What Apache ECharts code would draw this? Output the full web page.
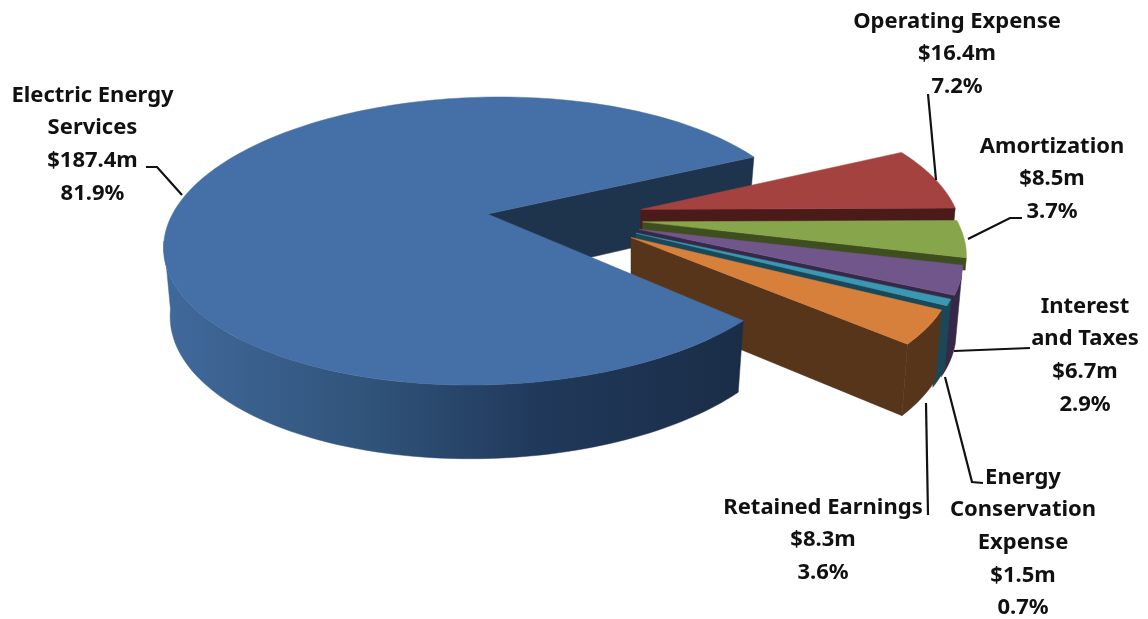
<!DOCTYPE html>
<html>
<head>
<meta charset="utf-8">
<title>Revenue and expense breakdown</title>
<script src="https://cdn.jsdelivr.net/npm/echarts@6/dist/echarts.min.js"></script>
<style>
  html, body { margin: 0; padding: 0; background: #ffffff; }
  #chart { width: 1148px; height: 619px; }
</style>
</head>
<body>
<div id="chart"></div>
<script>
// Slice data, clockwise from the large slice's upper cut edge.
var categories = ['Electric Energy\nServices', 'Operating Expense', 'Amortization', 'Interest\nand Taxes', 'Energy\nConservation\nExpense', 'Retained Earnings'];
var values = [187.4, 16.4, 8.5, 6.7, 1.5, 8.3];

var topColors = ['#4570a7', '#a44240', '#87a64c', '#71568c', '#3a98b3', '#d6803c'];
var cutColors = ['#1e344d', '#4a1b18', '#3f4e1e', '#362947', '#1b4858', '#57351a'];

// Pie projection: a disc tilted back with mild perspective, plus a per-slice explosion.
var PIE = {
  cx: 565, cy: 218,        // undisplaced pie centre
  explodeX: 78, explodeY: 36.5,
  rx: 315, ry: 139,
  perspective: 0.187,
  depth: 67, depthGrow: 0.1, taper: 0.98,
  firstAngle: 26.4,        // degrees, anti-clockwise from 3 o'clock, where slice 0 begins
  wallLimit: -16,          // outer walls on the right start below this angle
  wallOverlap: 4           // each wall runs on under the following slice
};
// Visible depth of each slice's cut face; the inner ones disappear behind the next slice.
var cutDepths = [PIE.depth, 20, 12, 10, 10, PIE.depth];

var total = values.reduce(function (a, b) { return a + b; }, 0);

// Angular span of each slice; slice 0 sweeps anti-clockwise, the rest run clockwise from the same edge.
var spans = [];
(function () {
  var main = values[0] / total * 360;
  spans.push({ from: PIE.firstAngle, to: PIE.firstAngle + main });
  var a = PIE.firstAngle;
  for (var i = 1; i < values.length; i++) {
    var sweep = values[i] / total * 360;
    spans.push({ from: a - sweep, to: a });
    a -= sweep;
  }
})();

function apexOf(i) {
  var mid = (spans[i].from + spans[i].to) / 2 * Math.PI / 180;
  return [PIE.cx + PIE.explodeX * Math.cos(mid), PIE.cy - PIE.explodeY * Math.sin(mid)];
}
// Foreshortening in the lower right quadrant opens the apparent angle a little.
function warp(deg) {
  var d = ((deg % 360) + 360) % 360;
  if (d > 270) return deg + 3.5 * Math.sin(2 * deg * Math.PI / 180);
  return deg;
}
function topPoint(apex, deg) {
  var t = warp(deg) * Math.PI / 180, u = Math.cos(t), v = -Math.sin(t);
  var s = 1 / (1 - PIE.perspective * v);
  // Displaced slices also drift away from the view axis as they come nearer.
  var drift = (s < 1 && apex[0] > PIE.cx) ? 0 : (apex[0] - PIE.cx) * (s - 1);
  return { x: apex[0] + PIE.rx * u * s + drift, y: apex[1] + PIE.ry * v * s, v: v };
}
function toPair(p) { return [p.x, p.y]; }
function bottomPoint(apex, p, depth) {
  return [apex[0] + (p.x - apex[0]) * (depth === undefined ? PIE.taper : 1 - (1 - PIE.taper) * depth / PIE.depth),
          p.y + (depth === undefined ? PIE.depth : depth) * (1 + PIE.depthGrow * p.v)];
}
function arc(apex, a, b) {
  var n = Math.max(2, Math.ceil(Math.abs(b - a) / 1.5)), pts = [];
  for (var k = 0; k <= n; k++) pts.push(topPoint(apex, a + (b - a) * k / n));
  return pts;
}
function poly(points, fill) {
  return { type: 'polygon', shape: { points: points }, style: { fill: fill, stroke: fill, lineWidth: 0.5 }, silent: true };
}
function cutFace(i) {
  var apex = apexOf(i);
  // The cut edge facing the viewer is the clockwise edge of each slice.
  var e = topPoint(apex, spans[i].from);
  var a = { x: apex[0], y: apex[1], v: 0 };
  var d = cutDepths[i];
  return poly([toPair(a), toPair(e), bottomPoint(apex, e, d), bottomPoint(apex, a, d)], cutColors[i]);
}

var wallFills = [
  new echarts.graphic.LinearGradient(168, 0, 745, 0, [
    { offset: 0, color: '#40699b' },
    { offset: 0.35, color: '#305379' },
    { offset: 0.65, color: '#20385a' },
    { offset: 1, color: '#1a2d47' }
  ], true),
  cutColors[1], cutColors[2], cutColors[3], cutColors[4], cutColors[5]
];

// Outer wall is only visible along the near part of the rim.
function outerWall(i) {
  var apex = apexOf(i);
  var limit = Math.asin(PIE.perspective) * 180 / Math.PI;
  var lo, hi;
  if (i === 0) { lo = 180 + limit; hi = spans[0].to; }
  else {
    if (spans[i].from >= PIE.wallLimit) return null;
    lo = spans[i].from - (i < values.length - 1 ? PIE.wallOverlap : 0);
    hi = Math.min(spans[i].to, PIE.wallLimit);
  }
  if (hi <= lo) return null;
  var rim = arc(apex, lo, hi);
  var pts = rim.map(toPair);
  for (var k = rim.length - 1; k >= 0; k--) pts.push(bottomPoint(apex, rim[k]));
  return poly(pts, wallFills[i]);
}
function topFace(i) {
  var apex = apexOf(i);
  var pts = [apex].concat(arc(apex, spans[i].from, spans[i].to).map(toPair));
  return poly(pts, topColors[i]);
}

function shareText(v) { return (v / total * 100).toFixed(1) + '%'; }
function moneyText(v) { return '$' + v.toFixed(1) + 'm'; }

// Label anchors (centre of text, first line) and leader routes, by slice.
var labelLayout = [
  { x: 92.5, y: 95, leader: [[182, 195], [157, 167], [146, 167]] },
  { x: 957, y: 21, leader: [[936, 180], [928, 94]] },
  { x: 1052, y: 146, leader: [[968, 239], [1010, 218], [1022, 218]] },
  { x: 1085, y: 306, leader: [[954, 351], [1030, 348]] },
  { x: 1023, y: 477, leader: [[945, 377], [972, 482], [983, 483]] },
  { x: 823, y: 507, leader: [[926, 403], [928, 515]] }
];

var sliceOrder = [1, 2, 3, 4, 5, 0];

var chart = echarts.init(document.getElementById('chart'), null, { renderer: 'canvas' });
chart.setOption({
  animation: false,
  backgroundColor: '#ffffff',
  series: [
    {
      // The large slice's exposed cut sits behind the exploded slices.
      type: 'custom', coordinateSystem: 'none', silent: true, z: 1,
      data: [values[0]],
      renderItem: function () { return cutFace(0); }
    },
    {
      type: 'custom', coordinateSystem: 'none', silent: true, z: 2,
      data: sliceOrder.map(function (i) { return values[i]; }),
      renderItem: function (params) {
        var i = sliceOrder[params.dataIndex];
        var children = [];
        if (i !== 0) children.push(cutFace(i));
        var wall = outerWall(i);
        if (wall) children.push(wall);
        children.push(topFace(i));
        return { type: 'group', children: children };
      }
    },
    {
      type: 'custom', coordinateSystem: 'none', silent: true, z: 3,
      data: values,
      renderItem: function (params, api) {
        var i = params.dataIndex, v = api.value(0), l = labelLayout[i];
        return {
          type: 'group',
          children: [
            { type: 'polyline', shape: { points: l.leader }, style: { stroke: '#111111', lineWidth: 2.2, fill: null }, silent: true },
            {
              type: 'text', x: l.x, y: l.y - 16, silent: true,
              style: {
                text: categories[i] + '\n' + moneyText(v) + '\n' + shareText(v),
                fill: '#111111', align: 'center', verticalAlign: 'top',
                font: 'bold 22px "Noto Sans", sans-serif', lineHeight: 32.7
              }
            }
          ]
        };
      }
    }
  ]
});
</script>
</body>
</html>
